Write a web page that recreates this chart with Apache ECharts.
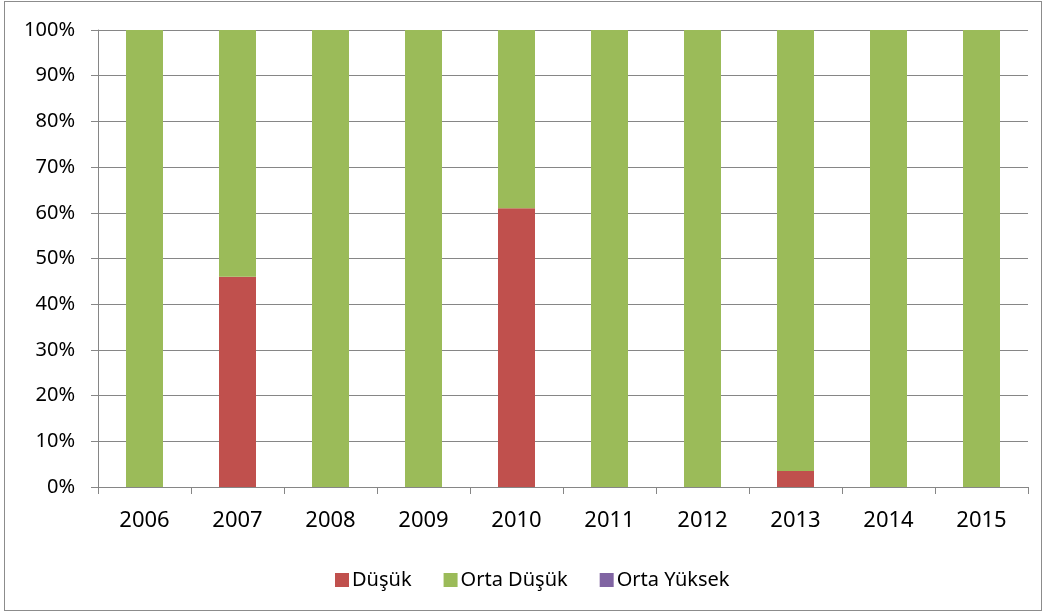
<!DOCTYPE html>
<html>
<head>
<meta charset="utf-8">
<script src="https://cdn.jsdelivr.net/npm/echarts@6/dist/echarts.min.js"></script>
<style>
  html, body { margin: 0; padding: 0; background: #fff; }
  #frame { position: absolute; left: 4px; top: 1px; width: 1038px; height: 610px; border: 1px solid #8c8c8c; box-sizing: border-box; }
  #chart { position: absolute; left: 0; top: 0; width: 1045px; height: 613px; }
</style>
</head>
<body>
<div id="frame"></div>
<div id="chart"></div>
<script>
// yıllar ve seri değerleri (%)
let years = ["2006", "2007", "2008", "2009", "2010", "2011", "2012", "2013", "2014", "2015"];
let dusuk = [0, 46, 0, 0, 61, 0, 0, 3.5, 0, 0];
let ortaDusuk = [100, 54, 100, 100, 39, 100, 100, 96.5, 100, 100];
let ortaYuksek = [0, 0, 0, 0, 0, 0, 0, 0, 0, 0];

let chart = echarts.init(document.getElementById("chart"));
let fontFamily = "'Noto Sans', 'Open Sans', sans-serif";
let option = {
    animation: false,
    grid: {
        left: 98,
        right: 17,
        top: 30,
        bottom: 126
    },
    legend: {
        data: ["Düşük", "Orta Düşük", "Orta Yüksek"],
        top: 565,
        left: 330,
        itemWidth: 14,
        itemHeight: 14,
        itemGap: 32,
        icon: "rect",
        textStyle: { fontSize: 20, color: "#000", fontFamily: fontFamily, padding: [0, 0, 0, -2] }
    },
    xAxis: {
        type: "category",
        data: years,
        axisLine: { lineStyle: { color: "#868686", width: 1 } },
        axisTick: { show: true, length: 7, lineStyle: { color: "#868686" } },
        axisLabel: { fontSize: 22, color: "#000", fontFamily: fontFamily, margin: 23 }
    },
    yAxis: {
        type: "value",
        min: 0,
        max: 100,
        interval: 10,
        axisLine: { show: true, lineStyle: { color: "#868686" } },
        axisTick: { show: true, length: 7, lineStyle: { color: "#868686" } },
        splitLine: { show: true, lineStyle: { color: "#868686" } },
        axisLabel: {
            fontSize: 20,
            color: "#000",
            fontFamily: fontFamily,
            margin: 23,
            formatter: function(v) { return v + "%"; }
        }
    },
    series: [
        {
            name: "Düşük",
            type: "bar",
            stack: "toplam",
            data: dusuk,
            barWidth: 37,
            itemStyle: { color: "#C0504D" }
        },
        {
            name: "Orta Düşük",
            type: "bar",
            stack: "toplam",
            data: ortaDusuk,
            barWidth: 37,
            itemStyle: { color: "#9BBB59" }
        },
        {
            name: "Orta Yüksek",
            type: "bar",
            stack: "toplam",
            data: ortaYuksek,
            barWidth: 37,
            itemStyle: { color: "#8064A2" }
        }
    ]
};
chart.setOption(option, true);
</script>
</body>
</html>
